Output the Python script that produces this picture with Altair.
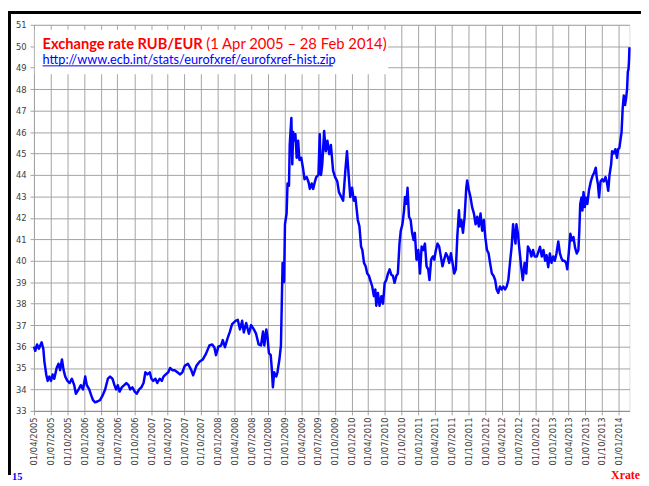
import altair as alt
import pandas as pd

dates = [
    "2005-04-01", "2005-04-08", "2005-04-18", "2005-04-28", "2005-05-13", "2005-05-22", "2005-05-28",
    "2005-06-07", "2005-06-15", "2005-06-24", "2005-07-03", "2005-07-12", "2005-07-21", "2005-08-03",
    "2005-08-13", "2005-08-22", "2005-09-01", "2005-09-10", "2005-09-19", "2005-10-01", "2005-10-13",
    "2005-10-25", "2005-11-07", "2005-11-16", "2005-12-01", "2005-12-13", "2005-12-25", "2006-01-06",
    "2006-01-15", "2006-01-28", "2006-02-09", "2006-02-18", "2006-03-01", "2006-03-16", "2006-03-28",
    "2006-04-10", "2006-04-25", "2006-05-10", "2006-05-22", "2006-06-04", "2006-06-15", "2006-06-24",
    "2006-07-03", "2006-07-13", "2006-07-25", "2006-08-07", "2006-08-19", "2006-08-31", "2006-09-09",
    "2006-09-21", "2006-10-04", "2006-10-15", "2006-10-28", "2006-11-09", "2006-11-21", "2006-12-01",
    "2006-12-12", "2006-12-25", "2007-01-03", "2007-01-13", "2007-01-25", "2007-02-04", "2007-02-17",
    "2007-03-01", "2007-03-10", "2007-03-22", "2007-04-05", "2007-04-15", "2007-04-28", "2007-05-10",
    "2007-05-25", "2007-06-09", "2007-06-21",
    "2007-07-04", "2007-07-22", "2007-08-09", "2007-08-19", "2007-09-06", "2007-09-24", "2007-10-11",
    "2007-10-28", "2007-11-16", "2007-12-01", "2007-12-13", "2007-12-22", "2008-01-04", "2008-01-19",
    "2008-01-28", "2008-02-09", "2008-02-24", "2008-03-07", "2008-03-19", "2008-04-07", "2008-04-19",
    "2008-05-01", "2008-05-13", "2008-05-22", "2008-06-04", "2008-06-19", "2008-07-01", "2008-07-16",
    "2008-07-28", "2008-08-11", "2008-08-24", "2008-09-04", "2008-09-11", "2008-09-22", "2008-09-29",
    "2008-10-06", "2008-10-16", "2008-10-22", "2008-10-28", "2008-11-04", "2008-11-15", "2008-11-22",
    "2008-12-03", "2008-12-11", "2008-12-16", "2008-12-20", "2008-12-28", "2009-01-02", "2009-01-11",
    "2009-01-16", "2009-01-24", "2009-01-28", "2009-02-06", "2009-02-11", "2009-02-16", "2009-02-22",
    "2009-02-28", "2009-03-07", "2009-03-15", "2009-03-22", "2009-04-01", "2009-04-10", "2009-04-19",
    "2009-05-01", "2009-05-11", "2009-05-18", "2009-05-28", "2009-06-05", "2009-06-15", "2009-06-22",
    "2009-07-04", "2009-07-11", "2009-07-18", "2009-07-25", "2009-08-04", "2009-08-13", "2009-08-22",
    "2009-09-01", "2009-09-10", "2009-09-22", "2009-10-03", "2009-10-15", "2009-10-24", "2009-11-06",
    "2009-11-16", "2009-11-28", "2009-12-07", "2009-12-16", "2009-12-25", "2010-01-04", "2010-01-13",
    "2010-01-22",
    "2010-02-04", "2010-02-13", "2010-02-22", "2010-03-01", "2010-03-10", "2010-03-19", "2010-03-28",
    "2010-04-06", "2010-04-15", "2010-04-24", "2010-05-03", "2010-05-11", "2010-05-16", "2010-05-25",
    "2010-06-03", "2010-06-13", "2010-06-22", "2010-07-01", "2010-07-10", "2010-07-19", "2010-07-28",
    "2010-08-06", "2010-08-15", "2010-08-24", "2010-09-03", "2010-09-11", "2010-09-20", "2010-09-27",
    "2010-10-06", "2010-10-15", "2010-10-20", "2010-10-28", "2010-11-03", "2010-11-11", "2010-11-20",
    "2010-11-28", "2010-12-06", "2010-12-13", "2010-12-22", "2011-01-01", "2011-01-10", "2011-01-19",
    "2011-01-28", "2011-02-06", "2011-02-15", "2011-02-24", "2011-03-03", "2011-03-12", "2011-03-21",
    "2011-03-29", "2011-04-07", "2011-04-16", "2011-04-25", "2011-05-04", "2011-05-13", "2011-05-22",
    "2011-06-01", "2011-06-10", "2011-06-19", "2011-06-28", "2011-07-07", "2011-07-16", "2011-07-25",
    "2011-08-02", "2011-08-11", "2011-08-16", "2011-08-24", "2011-09-02", "2011-09-11", "2011-09-20",
    "2011-09-25", "2011-10-04", "2011-10-13", "2011-10-22", "2011-11-01", "2011-11-10", "2011-11-19",
    "2011-11-28", "2011-12-07", "2011-12-16", "2011-12-25", "2012-01-02", "2012-01-11", "2012-01-20",
    "2012-01-28", "2012-02-07", "2012-02-16", "2012-02-25", "2012-03-04", "2012-03-13", "2012-03-22",
    "2012-04-01", "2012-04-10", "2012-04-19", "2012-04-28", "2012-05-07", "2012-05-16", "2012-05-25",
    "2012-06-02", "2012-06-07", "2012-06-15", "2012-06-20", "2012-06-28", "2012-07-07", "2012-07-16",
    "2012-07-25", "2012-08-04", "2012-08-13", "2012-08-22", "2012-09-01", "2012-09-10", "2012-09-19",
    "2012-09-28",
    "2012-10-10", "2012-10-27", "2012-11-06", "2012-11-15", "2012-11-24", "2012-12-02", "2012-12-11",
    "2012-12-20", "2012-12-29", "2013-01-07", "2013-01-16", "2013-01-25", "2013-02-04", "2013-02-13",
    "2013-02-22", "2013-03-01", "2013-03-10", "2013-03-19", "2013-03-25", "2013-04-02", "2013-04-11",
    "2013-04-19", "2013-04-28", "2013-05-07", "2013-05-16", "2013-05-25", "2013-05-30", "2013-06-04",
    "2013-06-11", "2013-06-16", "2013-06-22", "2013-06-29", "2013-07-04", "2013-07-13", "2013-07-22",
    "2013-08-01", "2013-08-10", "2013-08-19", "2013-08-28", "2013-09-02", "2013-09-09", "2013-09-15",
    "2013-09-23", "2013-10-02", "2013-10-11", "2013-10-20", "2013-10-29", "2013-11-04", "2013-11-11",
    "2013-11-20", "2013-11-25", "2013-12-04", "2013-12-13", "2013-12-22", "2013-12-28", "2014-01-04",
    "2014-01-11", "2014-01-16", "2014-01-22", "2014-01-28", "2014-02-04", "2014-02-10", "2014-02-15",
    "2014-02-19", "2014-02-23", "2014-02-26", "2014-02-28",
]

rates = [
    36.0, 35.8, 36.1, 35.9, 36.2, 35.9, 35.3,
    34.7, 34.4, 34.6, 34.4, 34.7, 34.5, 35.0,
    35.2, 34.9, 35.4, 34.9, 34.6, 34.4, 34.3,
    34.5, 34.2, 33.8, 34.0, 34.2, 34.0, 34.6,
    34.2, 34.0, 33.7, 33.5, 33.4, 33.45, 33.5,
    33.7, 34.0, 34.5, 34.6, 34.5, 34.2, 34.0,
    34.2, 33.9, 34.1, 34.2, 34.3, 34.2, 34.0,
    34.1, 33.9, 33.8, 34.0, 34.1, 34.3, 34.8,
    34.7, 34.8, 34.5, 34.4, 34.5, 34.3, 34.5,
    34.4, 34.6, 34.7, 34.8, 35.0, 34.9, 34.9,
    34.8, 34.7, 34.8,
    35.1, 35.2, 34.9, 34.66, 35.1, 35.3, 35.4,
    35.66, 36.05, 36.1, 35.97, 35.6, 36.0, 36.05,
    36.3, 35.97, 36.4, 36.7, 37.05, 37.2, 37.25,
    36.8, 37.2, 36.66, 37.1, 36.6, 37.0, 36.8,
    36.6, 36.1, 36.05, 36.7, 36.05, 36.8, 36.4,
    35.7, 35.6, 34.97, 34.1, 34.8, 34.6, 34.8,
    35.43, 36.05, 38.2, 39.9, 39.0, 41.7, 42.2,
    43.6, 43.5, 45.4, 46.66, 44.5, 46.0, 45.6,
    45.9, 44.8, 45.6, 44.7, 44.8, 44.35, 43.8,
    43.9, 43.66, 43.35, 43.6, 43.35, 43.7, 43.9,
    44.0, 45.9, 44.0, 44.5, 46.05, 45.1, 45.6,
    44.97, 45.4, 44.2, 43.9, 43.7, 43.2, 42.97,
    42.8, 44.2, 45.1, 44.0, 42.97, 43.4, 42.8,
    42.97,
    41.9, 41.6, 40.66, 40.5, 39.9, 39.74, 39.4,
    39.3, 39.05, 38.8, 38.35, 38.66, 37.9, 38.5,
    37.9, 38.35, 38.0, 38.97, 39.1, 39.4, 39.6,
    39.35, 39.3, 38.97, 39.3, 39.4, 40.8, 41.4,
    41.7, 42.35, 42.97, 42.66, 43.4, 42.05, 41.9,
    41.3, 40.97, 41.3, 40.05, 40.5, 39.4, 40.66,
    40.5, 40.8, 39.74, 39.6, 39.1, 40.05, 40.2,
    40.05, 40.5, 40.8, 40.66, 40.2, 39.74, 40.05,
    40.35, 40.2, 39.9, 40.35, 39.9, 39.4, 39.6,
    41.1, 42.35, 41.6, 41.9, 41.3, 42.05, 43.4,
    43.74, 43.3, 42.97, 42.5, 42.2, 41.7, 42.05,
    41.6, 42.2, 41.4, 41.9, 41.1, 40.5, 40.35,
    39.9, 39.4, 39.3, 39.1, 38.66, 38.5, 38.8,
    38.66, 38.8, 38.66, 38.8, 39.1, 39.9, 40.66,
    41.7, 41.3, 40.8, 41.7, 41.3, 40.5, 39.74,
    39.1, 39.9, 39.4, 40.66, 40.5, 40.2, 40.5,
    40.2,
    40.2, 40.65, 40.2, 40.5, 40.0, 40.26, 39.7,
    40.34, 39.9, 40.2, 40.0, 40.34, 40.9, 40.34,
    40.1, 40.0, 40.0, 39.9, 39.6, 40.34, 41.26,
    40.95, 41.1, 40.6, 40.34, 40.5, 41.4, 42.65,
    42.95, 42.34, 43.2, 42.5, 42.95, 42.65, 43.3,
    43.7, 43.95, 44.1, 44.34, 43.9, 43.55, 42.95,
    43.7, 43.8, 43.7, 43.9, 43.6, 43.26, 44.0,
    44.5, 45.1, 45.0, 45.2, 44.8, 45.2, 45.26,
    45.7, 46.0, 47.1, 47.7, 47.26, 47.6, 48.0,
    48.8, 48.95, 49.4, 49.95,
]

y_ticks = list(range(33, 52))
tick_quarters = [(y, m) for y in range(2005, 2015) for m in (1, 4, 7, 10)
                 if (2005, 4) <= (y, m) <= (2014, 1)]

title_bold = "Exchange rate RUB/EUR"
title_rest = "(1 Apr 2005 \u2013 28 Feb 2014)"
url_text = "http://www.ecb.int/stats/eurofxref/eurofxref-hist.zip"
page_no = "15"
footer_tag = "Xrate"

df = pd.DataFrame({"date": dates, "rate": rates})
one = pd.DataFrame({"k": [0]})

GRID = "#a3a3a3"
LABEL = "#404040"
W, H = 603, 391

x_enc = alt.X(
    "date:T",
    scale=alt.Scale(
        type="utc",
        domain=[alt.DateTime(year=2005, month=4, date=1, utc=True),
                alt.DateTime(year=2014, month=2, date=28, utc=True)],
        nice=False,
    ),
    axis=alt.Axis(
        values=[alt.DateTime(year=y, month=m, date=1, utc=True) for y, m in tick_quarters],
        format="%d/%m/%Y",
        labelAngle=270,
        labelAlign="right",
        labelBaseline="middle",
        labelFlush=False,
        labelOverlap=False,
        labelBound=False,
        labelFont="DejaVu Sans",
        labelFontSize=8.5,
        labelColor=LABEL,
        labelPadding=2,
        tickSize=4,
        tickColor=GRID,
        domainColor="#8c8c8c",
        gridColor=GRID,
        title=None,
    ),
)
y_enc = alt.Y(
    "rate:Q",
    scale=alt.Scale(domain=[33, 51], nice=False, zero=False),
    axis=alt.Axis(
        values=y_ticks,
        labelFont="DejaVu Sans",
        labelFontSize=8.5,
        labelColor=LABEL,
        labelPadding=4,
        tickSize=4,
        tickColor=GRID,
        domainColor=GRID,
        gridColor=GRID,
        title=None,
    ),
)

line = alt.Chart(df).mark_line(color="#0000FF", strokeWidth=2.5, strokeJoin="round").encode(x=x_enc, y=y_enc)

box = alt.Chart(one).mark_rect(color="white").encode(
    x=alt.value(0.8), x2=alt.value(358.7), y=alt.value(5), y2=alt.value(50))

t1 = alt.Chart(one).mark_text(align="left", baseline="alphabetic", font="Lato", fontSize=14.8,
                              fontWeight="bold", color="#FF0000").encode(
    x=alt.value(8.7), y=alt.value(24.7), text=alt.value(title_bold))
t2 = alt.Chart(one).mark_text(align="left", baseline="alphabetic", font="Lato", fontSize=15,
                              color="#FF0000").encode(
    x=alt.value(174.5), y=alt.value(24.7), text=alt.value(title_rest))
t3 = alt.Chart(one).mark_text(align="left", baseline="alphabetic", font="Lato", fontSize=12.9,
                              color="#0000FF").encode(
    x=alt.value(8.7), y=alt.value(39.7), text=alt.value(url_text))
uline = alt.Chart(one).mark_rule(color="#0000FF", strokeWidth=1).encode(
    x=alt.value(8.7), x2=alt.value(302.7), y=alt.value(41.6))

f1 = alt.Chart(one).mark_text(align="left", baseline="alphabetic", font="Liberation Serif",
                              fontSize=10.5, fontWeight="bold", color="#0000FF").encode(
    x=alt.value(-22.3), y=alt.value(460.5), text=alt.value(page_no))
f2 = alt.Chart(one).mark_text(align="right", baseline="alphabetic", font="Liberation Serif",
                              fontSize=12, fontWeight="bold", color="#FF0000").encode(
    x=alt.value(613.7), y=alt.value(459.5), text=alt.value(footer_tag))

frame_left = alt.Chart(one).mark_rect(color="black").encode(
    x=alt.value(-26.3), x2=alt.value(-23.3), y=alt.value(-14), y2=alt.value(456))
frame_top = alt.Chart(one).mark_rect(color="black").encode(
    x=alt.value(-26.3), x2=alt.value(614.7), y=alt.value(-14), y2=alt.value(-11))

chart = alt.layer(line, box, t1, t2, t3, uline, f1, f2, frame_left, frame_top).properties(
    width=W, height=H,
    autosize=alt.AutoSizeParams(type="none"),
    padding={"left": 26.3, "top": 14, "right": 11.7, "bottom": 70},
).configure_view(stroke=GRID, strokeWidth=1).configure(background="white")

chart.save("out.html", embed_options={"renderer": "svg", "actions": False})
